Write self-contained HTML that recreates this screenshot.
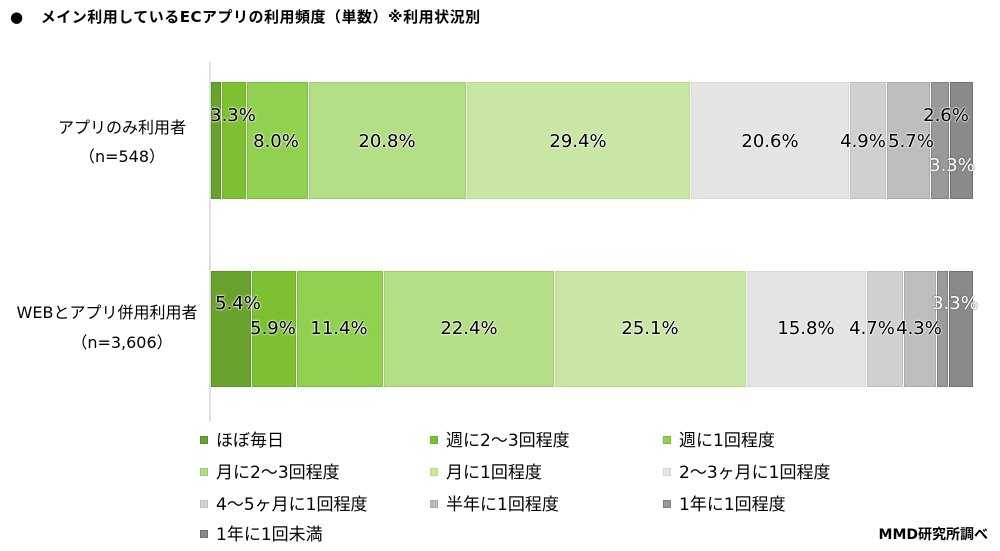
<!DOCTYPE html>
<html><head><meta charset="utf-8"><style>
body{margin:0;background:#fff;width:1000px;height:551px;position:relative;overflow:hidden;font-family:"DejaVu Sans","Noto Sans CJK JP",sans-serif;color:#000}
.a{position:absolute;white-space:nowrap}
.s{position:absolute;box-sizing:border-box}
.l{position:absolute;font-size:18px;line-height:20px;text-shadow:0 0 2px #fff,0 0 2px #fff,0 0 1px #fff;transform:translate(-50%,-50%)}
.w{color:#fff;text-shadow:0 0 2px #666,0 0 1px #666}
.lg{position:absolute;font-size:17px;line-height:20px;white-space:nowrap}
.lg i{display:inline-block;width:8px;height:8px;margin-right:8px;vertical-align:2px;box-sizing:border-box}
</style></head><body>
<div class="a" style="left:10px;top:7px;font-size:15px;font-weight:bold;line-height:20px;letter-spacing:0.5px">●&nbsp;&nbsp;&nbsp;メイン利用しているECアプリの利用頻度（単数）※利用状況別</div>
<div class="s" style="left:209px;top:62px;width:2px;height:360px;background:#e0e0e0"></div>
<div class="a" style="left:0;width:244px;text-align:center;top:118px;font-size:16px;line-height:20px">アプリのみ利用者</div>
<div class="a" style="left:0;width:244px;text-align:center;top:147px;font-size:16px;line-height:20px">（n=548）</div>
<div class="a" style="left:0;width:214px;text-align:center;top:303px;font-size:16px;line-height:20px">WEBとアプリ併用利用者</div>
<div class="a" style="left:0;width:244px;text-align:center;top:333px;font-size:16px;line-height:20px">（n=3,606）</div>
<div id="bars"></div>
<script>
const cols=['#6aa22e','#7dc032','#92d050','#b3de85','#c9e6a4','#e4e4e4','#d0d0d0','#bdbdbd','#9a9a9a','#8a8a8a'];
const brd=['#5a8f26','#6aaf25','#78c03a','#9fd070','#b5dd8a','#d8d8d8','#c0c0c0','#aaaaaa','#808080','#707070'];
const b1=[211,221,246,308,466,690,849,886,930,949,973];
const b2=[211,251,296,383,554,746,866,903,936,948,973];
let h='';
function bar(b,y,hh){for(let i=0;i<10;i++){h+=`<div class="s" style="left:${b[i]+(i?1:0)}px;top:${y}px;width:${b[i+1]-b[i]-(i?1:0)}px;height:${hh}px;background:${cols[i]};border:1px solid ${brd[i]}"></div>`}}
bar(b1,82,117);bar(b2,271,116);
function lab(x,y,t,c){h+=`<div class="l${c?' w':''}" style="left:${x}px;top:${y}px">${t}</div>`}
lab(233,116,'3.3%');lab(276,142,'8.0%');lab(387,142,'20.8%');lab(578,142,'29.4%');lab(770,142,'20.6%');lab(863,142,'4.9%');lab(911,142,'5.7%');lab(946,116,'2.6%');lab(952,166,'3.3%',1);
lab(238,304,'5.4%');lab(273,329,'5.9%');lab(339,329,'11.4%');lab(469,329,'22.4%');lab(650,329,'25.1%');lab(806,329,'15.8%');lab(872,329,'4.7%');lab(919,329,'4.3%');lab(955,304,'3.3%',1);
const L=[['ほぼ毎日',200,431],['週に2～3回程度',430,431],['週に1回程度',663,431],['月に2～3回程度',200,463],['月に1回程度',430,463],['2～3ヶ月に1回程度',663,463],['4～5ヶ月に1回程度',200,495],['半年に1回程度',430,495],['1年に1回程度',663,495],['1年に1回未満',200,525]];
L.forEach((e,i)=>{h+=`<div class="lg" style="left:${e[1]}px;top:${e[2]}px"><i style="background:${cols[i]};border:1px solid ${brd[i]}"></i>${e[0]}</div>`});
document.getElementById('bars').innerHTML=h;
</script>
<div class="a" style="right:12px;top:525px;font-size:14px;font-weight:bold;line-height:20px">MMD研究所調べ</div>
</body></html>
